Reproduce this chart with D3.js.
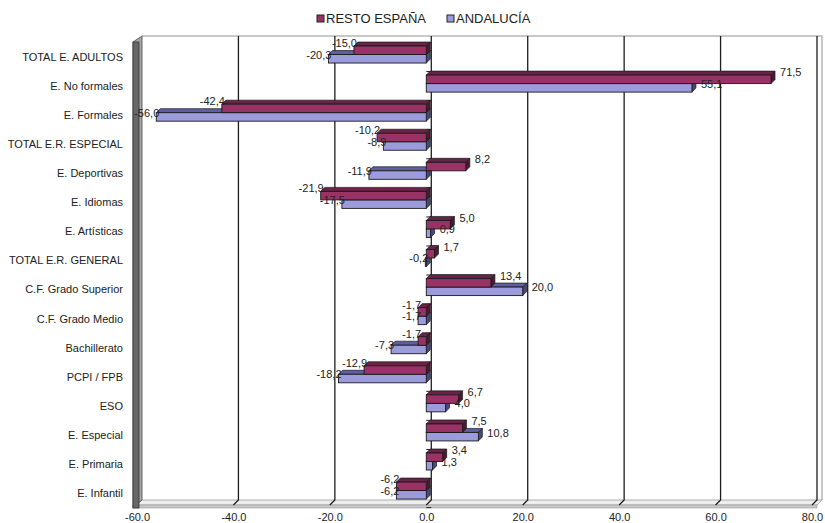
<!DOCTYPE html>
<meta charset="utf-8">
<script src="https://d3js.org/d3.v7.min.js"></script>
<style>
  body { margin: 0; background: #fff; }
  text { font-family: "Liberation Sans", Arial, sans-serif; fill: #222; }
</style>
<div id="chart"></div>
<script>
// categories, top to bottom
var categories = ["TOTAL E. ADULTOS", "E. No formales", "E. Formales", "TOTAL E.R. ESPECIAL",
  "E. Deportivas", "E. Idiomas", "E. Artísticas", "TOTAL E.R. GENERAL", "C.F. Grado Superior",
  "C.F. Grado Medio", "Bachillerato", "PCPI / FPB", "ESO", "E. Especial", "E. Primaria", "E. Infantil"];
var resto = [-15.0, 71.5, -42.4, -10.2, 8.2, -21.9, 5.0, 1.7, 13.4, -1.7, -1.7, -12.9, 6.7, 7.5, 3.4, -6.2];
var andalucia = [-20.3, 55.1, -56.0, -8.9, -11.9, -17.5, 0.9, -0.2, 20.0, -1.7, -7.3, -18.2, 4.0, 10.8, 1.3, -6.2];
var seriesNames = ["RESTO ESPAÑA", "ANDALUCÍA"];
var xTicks = [-60, -40, -20, 0, 20, 40, 60, 80];

var width = 825, height = 523;
var dx = 4, dy = -4;   // 3d depth of the bars
var wallD = 5;         // depth of walls / floor

var svg = d3.select("#chart").append("svg")
  .attr("width", width).attr("height", height);

// front plane scale
var x = d3.scaleLinear().domain([-60, 80]).range([137, 812]);
var y = d3.scaleBand().domain(categories).range([42.5, 507.6]);
var bw = y.bandwidth();
var barH = 8.5;

var plotTop = 36, floorY = 500;

// back wall frame
svg.append("path")
  .attr("d", "M" + (x(-60) + wallD) + "," + plotTop + "H" + (x(80) + wallD + 5) + "V" + floorY)
  .attr("fill", "none").attr("stroke", "#b5b5b5").attr("stroke-width", 1.5);

// floor
svg.append("polygon")
  .attr("points", [[x(-60) + wallD, floorY], [x(80) + wallD + 5, floorY], [x(80) + 5, floorY + wallD], [x(-60) - 4, floorY + wallD]].join(" "))
  .attr("fill", "#eeeeee").attr("stroke", "#9a9a9a").attr("stroke-width", 0.8);
svg.append("rect")
  .attr("x", x(-60) - 4).attr("y", floorY + wallD).attr("width", x(80) + 9 - x(-60)).attr("height", 3)
  .attr("fill", "#c8c8c8").attr("stroke", "#9a9a9a").attr("stroke-width", 0.6);

// gridlines on the back wall, running onto the floor
svg.append("g").selectAll("path")
  .data(xTicks.filter(function(d) { return d > -60; }))
  .enter().append("path")
    .attr("d", function(d) {
      return "M" + (x(d) + wallD) + "," + plotTop + "V" + floorY + "L" + x(d) + "," + (floorY + wallD);
    })
    .attr("fill", "none").attr("stroke", "#1e1e1e").attr("stroke-width", 1.3);

// left wall
svg.append("polygon")
  .attr("points", [[x(-60) - 4, plotTop + 6], [x(-60) + wallD, plotTop], [x(-60) + wallD, floorY], [x(-60) - 4, floorY + wallD + 3]].join(" "))
  .attr("fill", "#a8a8a8").attr("stroke", "#444").attr("stroke-width", 0.8);
svg.append("rect")
  .attr("x", x(-60) - 4).attr("y", plotTop + 6).attr("width", 6).attr("height", floorY + wallD + 3 - plotTop - 6)
  .attr("fill", "#676767").attr("stroke", "#333").attr("stroke-width", 0.8);

// category tick marks at the zero line
svg.append("g").selectAll("line")
  .data(d3.range(categories.length + 1))
  .enter().append("line")
    .attr("x1", x(0)).attr("x2", x(0) + wallD)
    .attr("y1", function(i) { return 42.5 + i * bw; })
    .attr("y2", function(i) { return 42.5 + i * bw; })
    .attr("stroke", "#222").attr("stroke-width", 1);

// category labels
svg.append("g").selectAll("text")
  .data(categories)
  .enter().append("text")
    .attr("x", 123)
    .attr("y", function(d) { return y(d) + bw / 2; })
    .attr("dy", "0.35em")
    .attr("text-anchor", "end")
    .style("font-size", "11px")
    .text(function(d) { return d; });

// x axis labels
var xAxis = svg.append("g")
  .attr("transform", "translate(0," + (floorY + wallD + 5) + ")")
  .call(d3.axisBottom(x).tickValues(xTicks).tickSize(0).tickPadding(3)
    .tickFormat(function(d) { return d.toFixed(1); }));
xAxis.select(".domain").remove();
xAxis.selectAll("text").style("font-size", "11px").style("fill", "#222")
  .style("font-family", "'Liberation Sans', Arial, sans-serif");

// bars
var styles = [
  { front: "#993366", top: "#6a2246", side: "#4e1833" },
  { front: "#9c9cdc", top: "#5f5fa0", side: "#48487e" }
];
var bars = [];
categories.forEach(function(c, i) {
  var groupTop = y(c) + bw / 2 - 2.5 - barH;
  bars.push({ c: c, s: 1, v: andalucia[i], y0: groupTop + barH });
  bars.push({ c: c, s: 0, v: resto[i], y0: groupTop });
});

var barG = svg.append("g");
bars.forEach(function(b) {
  var a = x(Math.min(0, b.v)), e = x(Math.max(0, b.v));
  var st = styles[b.s];
  var g = barG.append("g");
  g.append("polygon")
    .attr("points", [[a, b.y0], [a + dx, b.y0 + dy], [e + dx, b.y0 + dy], [e, b.y0]].join(" "))
    .attr("fill", st.top).attr("stroke", "#1a1a1a").attr("stroke-width", 0.7);
  g.append("polygon")
    .attr("points", [[e, b.y0], [e + dx, b.y0 + dy], [e + dx, b.y0 + barH + dy], [e, b.y0 + barH]].join(" "))
    .attr("fill", st.side).attr("stroke", "#1a1a1a").attr("stroke-width", 0.7);
  g.append("rect")
    .attr("x", a).attr("y", b.y0).attr("width", Math.max(e - a, 0.5)).attr("height", barH)
    .attr("fill", st.front).attr("stroke", "#1a1a1a").attr("stroke-width", 0.9);
});

// value labels
svg.append("g").selectAll("text")
  .data(bars)
  .enter().append("text")
    .attr("x", function(d) { return d.v >= 0 ? x(d.v) + 9 : x(d.v) + 3; })
    .attr("y", function(d) { return d.y0 + barH / 2 + (d.s === 0 ? -7 : -4); })
    .attr("dy", "0.35em")
    .attr("text-anchor", function(d) { return d.v >= 0 ? "start" : "end"; })
    .style("font-size", "11px")
    .text(function(d) { return d.v.toFixed(1).replace(".", ","); });

// legend
var legend = svg.append("g");
var legX = [317, 447];
seriesNames.forEach(function(n, i) {
  legend.append("rect")
    .attr("x", legX[i]).attr("y", 15).attr("width", 7).attr("height", 7)
    .attr("fill", styles[i].front).attr("stroke", "#222").attr("stroke-width", 1);
  legend.append("text")
    .attr("x", legX[i] + 9).attr("y", 18.5).attr("dy", "0.35em")
    .style("font-size", "13px")
    .text(n);
});
</script>
